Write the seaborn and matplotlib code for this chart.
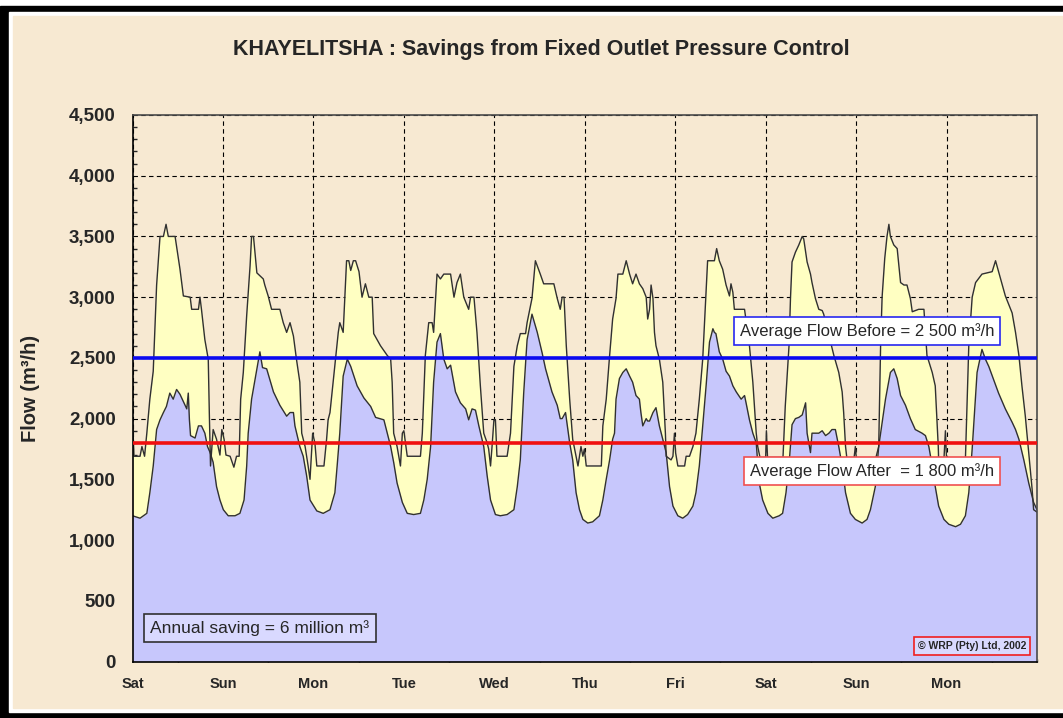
import numpy as np
import pandas as pd
import matplotlib
matplotlib.use("Agg")
import matplotlib.pyplot as plt
import seaborn as sns
from matplotlib.patches import Rectangle
from matplotlib.ticker import MultipleLocator, StrMethodFormatter

# hours since Saturday 00:00 and flow in m3/h
before_hours = [0, 0.4, 2.0, 2.5, 3.2, 3.8, 4.6, 5.5, 6.4, 7.3, 8.2, 8.9, 9.5, 11.3, 12.6, 13.5, 15.3, 15.7,
                17.5, 17.9, 18.3, 19.2, 20.1, 20.4, 20.7, 21.4, 22.3, 23.2, 23.7, 24.3, 24.8, 25.9, 26.9, 27.6,
                28.3, 28.7, 29.4, 30.3, 31.2, 31.6, 32.1, 33.0, 34.7, 35.1, 36.0, 36.9, 39.1, 40.0, 40.9, 41.8,
                42.7, 43.5, 44.4, 44.9, 45.8, 46.6, 47.1, 47.8, 48.4, 48.9, 50.8, 51.5, 51.9, 52.4, 54.6, 55.0,
                55.9, 56.8, 57.4, 57.9, 58.6, 59.2, 60.1, 60.9, 61.8, 62.7, 63.6, 64.0, 65.8, 67.6, 68.5, 68.9,
                69.3, 70.2, 71.1, 71.6, 72.0, 72.9, 76.4, 76.9, 77.3, 77.7, 78.6, 79.5, 79.9, 80.8, 81.7, 82.6,
                84.4, 85.3, 86.1, 87.0, 87.9, 88.8, 89.2, 89.7, 90.6, 91.4, 92.3, 93.2, 94.1, 94.5, 95.0, 95.4,
                95.9, 96.3, 96.7, 99.4, 100.3, 101.2, 102.1, 102.9, 104.3, 104.7, 106.0, 106.9, 108.2, 109.1,
                111.8, 112.7, 113.5, 114.0, 114.5, 115.1, 116.0, 116.8, 117.7, 118.2, 118.6, 119.0, 119.5, 119.9,
                120.4, 124.4, 124.8, 125.7, 126.6, 127.4, 128.3, 128.8, 130.1, 131.0, 131.9, 132.7, 133.6, 134.5,
                135.4, 136.3, 136.7, 137.2, 137.6, 138.1, 138.5, 138.9, 139.8, 140.7, 141.4, 141.6, 142.9, 143.4,
                143.8, 144.1, 144.7, 146.5, 146.9, 147.8, 148.7, 149.5, 150.4, 151.3, 152.2, 152.6, 154.4, 155.0,
                155.7, 156.6, 157.5, 158.4, 158.8, 159.3, 159.7, 162.4, 163.7, 164.6, 165.5, 165.9, 166.5, 168.0,
                168.2, 168.5, 172.6, 173.2, 174.2, 174.6, 175.0, 175.9, 176.8, 177.7, 178.1, 179.0, 179.9, 180.3,
                181.2, 182.1, 183.0, 183.4, 186.1, 187.4, 188.3, 188.7, 189.2, 189.6, 191.4, 191.8, 192.1, 197.1,
                198.0, 198.5, 198.9, 199.6, 200.2, 200.7, 201.1, 202.0, 202.9, 203.8, 204.7, 205.5, 206.4, 206.9,
                208.6, 210.0, 210.8, 212.2, 213.0, 213.8, 213.9, 215.3, 215.7, 216.0, 221.0, 221.9, 222.8, 223.7,
                225.4, 228.1, 229.0, 229.8, 231.6, 233.4, 234.3, 235.2, 236.0, 236.9, 237.8, 238.7, 239.1, 240.0]
before_flow = [2000, 1690, 1690, 1770, 1690, 1880, 2160, 2390, 3100, 3500, 3500, 3600, 3500, 3500, 3230, 3010, 3000, 2900,
               2900, 3000, 2900, 2650, 2490, 2020, 1610, 1910, 1830, 1700, 1910, 1830, 1700, 1690, 1600, 1690,
               1690, 2160, 2380, 2850, 3260, 3500, 3500, 3200, 3150, 3100, 3010, 2900, 2900, 2790, 2710, 2790,
               2680, 2490, 2300, 1880, 1770, 1610, 1500, 1880, 1800, 1610, 1610, 1830, 1990, 2050, 2710, 2790,
               2710, 3300, 3300, 3220, 3300, 3300, 3210, 3000, 3110, 3000, 3000, 2700, 2600, 2520, 2490, 2300,
               1880, 1770, 1610, 1880, 1900, 1690, 1690, 1880, 2210, 2520, 2790, 2790, 2710, 3190, 3150, 3190,
               3190, 3000, 3120, 3190, 3000, 2930, 2900, 3000, 3000, 2710, 2270, 1880, 1800, 1750, 1610, 1770,
               1990, 1990, 1690, 1690, 1880, 2430, 2600, 2700, 2700, 2790, 2990, 3300, 3190, 3110,
               3110, 2990, 2900, 3000, 3000, 2600, 2160, 1830, 1690, 1610, 1690, 1770, 1690, 1750,
               1610, 1610, 1940, 2160, 2520, 2820, 2990, 3190, 3190, 3300, 3190, 3110, 3190, 3110,
               3070, 3000, 2820, 2900, 3100, 2990, 2710, 2600, 2490, 2300, 1880, 1690, 1660, 1690,
               1880, 1720, 1610, 1610, 1690, 1690, 1770, 1880, 2160, 2490, 3040, 3300, 3300, 3400,
               3300, 3230, 3100, 3010, 3110, 3040, 2900, 2900, 2600, 2300, 1880, 1770, 1680, 1680,
               1900, 1680, 1680, 2100, 2600, 3000, 3290, 3370, 3430, 3500, 3480, 3290, 3190, 3120,
               2990, 2900, 2890, 2860, 2520, 2380, 2220, 2050, 1770, 1660, 1660, 1770, 1660, 1660,
               1770, 2600, 3000, 3320, 3500, 3600, 3500, 3430, 3400, 3120, 3100, 3100, 2990, 2880,
               2900, 2900, 2520, 2380, 2270, 1770, 1660, 1660, 1900, 1660, 1660, 2600, 3000, 3120,
               3190, 3210, 3300, 3210, 3010, 2870, 2710, 2520, 2270, 2020, 1720, 1420, 1250, 1230]

after_hours = [0, 2.0, 3.8, 4.6, 5.5, 6.4, 7.3, 8.2, 9.0, 9.9, 10.8, 11.7, 12.6, 14.4, 14.8, 15.1, 15.4, 16.6,
               17.5, 18.3, 19.2, 19.9, 20.6, 21.4, 22.3, 23.2, 24.1, 25.4, 27.2, 28.5, 29.6, 30.3, 30.7, 31.6,
               33.0, 33.8, 34.5, 35.6, 37.4, 39.1, 40.9, 41.8, 42.7, 43.1, 44.4, 45.3, 46.2, 47.1, 48.9, 50.6,
               52.4, 53.7, 54.3, 55.0, 55.9, 57.0, 57.9, 59.6, 61.4, 63.2, 64.5, 66.7, 67.6, 68.5, 69.3, 70.2,
               71.6, 72.9, 74.6, 76.4, 77.3, 78.2, 79.1, 79.9, 80.8, 81.7, 82.6, 83.5, 84.4, 85.7, 87.0, 88.4,
               89.2, 90.1, 91.0, 91.9, 93.2, 94.1, 95.0, 96.3, 97.6, 99.4, 101.2, 102.1, 102.9, 103.8, 104.7,
               106.0, 107.4, 108.7, 109.6, 111.3, 112.7, 113.5, 114.0, 114.9, 116.0, 116.8, 117.7, 118.6, 119.5,
               120.8, 122.1, 123.9, 124.8, 125.7, 126.6, 127.4, 127.9, 128.3, 129.2, 130.1, 131.0, 131.9, 132.7,
               133.6, 134.5, 134.9, 135.4, 136.3, 136.7, 137.2, 138.1, 138.9, 139.8, 140.7, 141.6, 142.5, 143.4,
               144.7, 146.0, 147.3, 148.7, 149.5, 150.4, 151.3, 152.2, 153.1, 154.0, 154.4, 154.8, 155.7, 156.6,
               157.5, 158.4, 159.3, 160.2, 161.5, 162.4, 162.8, 163.7, 164.6, 165.5, 166.3, 167.2, 168.6, 169.9,
               171.6, 172.5, 173.4, 174.3, 175.0, 175.9, 176.8, 177.7, 178.6, 179.0, 179.9, 180.3, 182.1, 183.0,
               183.9, 184.8, 185.6, 186.5, 187.0, 187.4, 188.3, 189.2, 190.5, 191.8, 193.6, 194.9, 195.8, 197.1,
               198.0, 199.8, 201.1, 202.0, 202.9, 203.8, 205.1, 206.4, 207.7, 209.5, 210.4, 211.3, 212.2, 213.0,
               213.9, 215.3, 216.6, 218.4, 219.7, 221.0, 221.9, 222.8, 224.1, 225.4, 226.3, 227.2, 228.5, 229.8,
               231.6, 233.4, 234.3, 235.2, 236.5, 237.8, 239.1, 240.0]
after_flow = [1200, 1180, 1220, 1390, 1610, 1910, 1990, 2050, 2100, 2210, 2160, 2240, 2200, 2080, 2210, 1990, 1860, 1840,
              1940, 1940, 1880, 1770, 1720, 1640, 1440, 1330, 1250, 1200, 1200, 1220, 1330, 1610, 1880, 2160,
              2410, 2550, 2420, 2410, 2220, 2110, 2020, 2050, 2050, 1940, 1770, 1690, 1530, 1330, 1240, 1220,
              1250, 1390, 1610, 1880, 2350, 2490, 2430, 2270, 2170, 2100, 2010, 1990, 1880, 1770, 1640, 1470,
              1310, 1220, 1210, 1220, 1330, 1500, 1770, 2300, 2630, 2700, 2490, 2410, 2440, 2220, 2130, 2080,
              1990, 2080, 2070, 1940, 1770, 1530, 1330, 1210, 1200, 1210, 1250, 1440, 1660, 2210, 2650,
              2860, 2710, 2540, 2410, 2220, 2110, 2000, 2000, 2050, 1800, 1660, 1390, 1250, 1170,
              1140, 1150, 1200, 1330, 1500, 1660, 1830, 1880, 2160, 2330, 2380, 2410, 2350, 2300,
              2190, 2160, 2050, 1940, 2000, 1980, 1980, 2050, 2090, 1940, 1830, 1720, 1440, 1280,
              1200, 1180, 1210, 1280, 1390, 1610, 1940, 2270, 2630, 2740, 2710, 2700, 2550, 2490,
              2390, 2350, 2270, 2220, 2160, 2190, 2130, 1990, 1880, 1800, 1470, 1330, 1220, 1180,
              1200, 1220, 1390, 1660, 1950, 2000, 2010, 2030, 2130, 1880, 1720, 1880, 1880, 1900,
              1860, 1880, 1910, 1910, 1830, 1770, 1610, 1390, 1220, 1170, 1140, 1170, 1250, 1440,
              1770, 2160, 2380, 2410, 2330, 2190, 2110, 2000, 1910, 1880, 1860, 1770, 1610, 1440,
              1280, 1170, 1130, 1110, 1130, 1200, 1390, 1750, 2380, 2570, 2490, 2430, 2320, 2210,
              2080, 1970, 1910, 1830, 1660, 1470, 1310, 1250]

day_labels = ["Sat", "Sun", "Mon", "Tue", "Wed", "Thu", "Fri", "Sat", "Sun", "Mon"]
avg_before = 2500
avg_after = 1800

before = pd.DataFrame({"hour": before_hours, "flow": before_flow})
after = pd.DataFrame({"hour": after_hours, "flow": after_flow})

sns.set_style("white")
plt.rcParams["font.family"] = ["Liberation Sans", "DejaVu Sans"]

W, H = 1063, 718
parchment = "#F7E9D2"


def fx(x):
    return x / W


def fy(y):
    return 1 - y / H


fig = plt.figure(figsize=(W / 100, H / 100), dpi=100)
fig.patch.set_facecolor("white")
# outer frame: black band, thin white gap, parchment inside
fig.patches.append(Rectangle((0, 0), 1.2, fy(6), transform=fig.transFigure, color="black", zorder=-3))
fig.patches.append(Rectangle((fx(9), 6 / H), 1.2, fy(12) - 6 / H, transform=fig.transFigure,
                             color="white", zorder=-2))
fig.patches.append(Rectangle((fx(13), 10 / H), 1.2, fy(16) - 10 / H, transform=fig.transFigure,
                             color=parchment, zorder=-1))

ax = fig.add_axes([fx(132.5), fy(661.5), fx(1037) - fx(132.5), fy(115) - fy(661.5)])
ax.set_facecolor(parchment)

# areas: before (yellow) underneath, after (lavender) on top
ax.fill_between(before["hour"], 0, before["flow"], color="#FFFFC2", lw=0, zorder=1)
ax.fill_between(after["hour"], 0, after["flow"], color="#C7C7FC", lw=0, zorder=1.5)
sns.lineplot(data=before, x="hour", y="flow", color="#303030", lw=1, estimator=None, ax=ax, zorder=2)
sns.lineplot(data=after, x="hour", y="flow", color="#303030", lw=1, estimator=None, ax=ax, zorder=2.5)

ax.axhline(avg_before, color="#0A0AF0", lw=2.6, zorder=4)
ax.axhline(avg_after, color="#F01010", lw=2.6, zorder=4)

ax.set_xlim(0, 240)
ax.set_ylim(0, 4500)
ax.set_axisbelow(True)
ax.grid(True, which="major", color="black", lw=0.8, linestyle=(0, (4, 3)))

ax.yaxis.set_major_locator(MultipleLocator(500))
ax.yaxis.set_minor_locator(MultipleLocator(100))
ax.yaxis.set_major_formatter(StrMethodFormatter("{x:,.0f}"))
ax.set_xticks(np.arange(0, 240, 24))
ax.set_xticklabels(day_labels)
ax.xaxis.set_minor_locator(MultipleLocator(12))

ax.tick_params(axis="y", which="major", direction="out", length=5, width=1, pad=7, labelsize=13.5)
ax.tick_params(axis="y", which="minor", direction="in", length=3, width=1, left=True)
ax.tick_params(axis="x", which="major", direction="out", length=4, width=1, pad=7, labelsize=10.5)
ax.tick_params(axis="x", which="minor", direction="in", length=2.5, width=1, bottom=True)
for lab in ax.get_xticklabels() + ax.get_yticklabels():
    lab.set_fontweight("bold")

for side in ["left", "bottom"]:
    ax.spines[side].set_color("black")
    ax.spines[side].set_linewidth(1.2)
for side in ["top", "right"]:
    ax.spines[side].set_color("#4A4A4A")
    ax.spines[side].set_linewidth(1.2)

ax.set_xlabel("")
ax.set_ylabel("Flow (m³/h)", fontsize=14.5, fontweight="bold")
ax.yaxis.set_label_coords((40 - 132.5) / 904.5, 0.5)

fig.text(fx(541), fy(50), "KHAYELITSHA : Savings from Fixed Outlet Pressure Control",
         ha="center", va="center", fontsize=15.5, fontweight="bold")

fig.text(fx(867), fy(331), "Average Flow Before = 2 500 m³/h", ha="center", va="center", fontsize=12,
         bbox=dict(boxstyle="square,pad=0.35", fc="white", ec="#2828F0", lw=1.2), zorder=6)
fig.text(fx(872), fy(471), "Average Flow After  = 1 800 m³/h", ha="center", va="center", fontsize=12,
         bbox=dict(boxstyle="square,pad=0.35", fc="white", ec="#F05050", lw=1.2), zorder=6)
fig.text(fx(260), fy(628), "Annual saving = 6 million m³", ha="center", va="center", fontsize=12.5,
         bbox=dict(boxstyle="square,pad=0.35", fc="#D9D9FF", ec="#303030", lw=1.2), zorder=6)
fig.text(fx(972), fy(646), "© WRP (Pty) Ltd, 2002", ha="center", va="center", fontsize=7.5,
         fontweight="bold", bbox=dict(boxstyle="square,pad=0.4", fc="#D9D9FF", ec="#F02020", lw=1.2),
         zorder=6)

fig.savefig("out.png", dpi=100)
